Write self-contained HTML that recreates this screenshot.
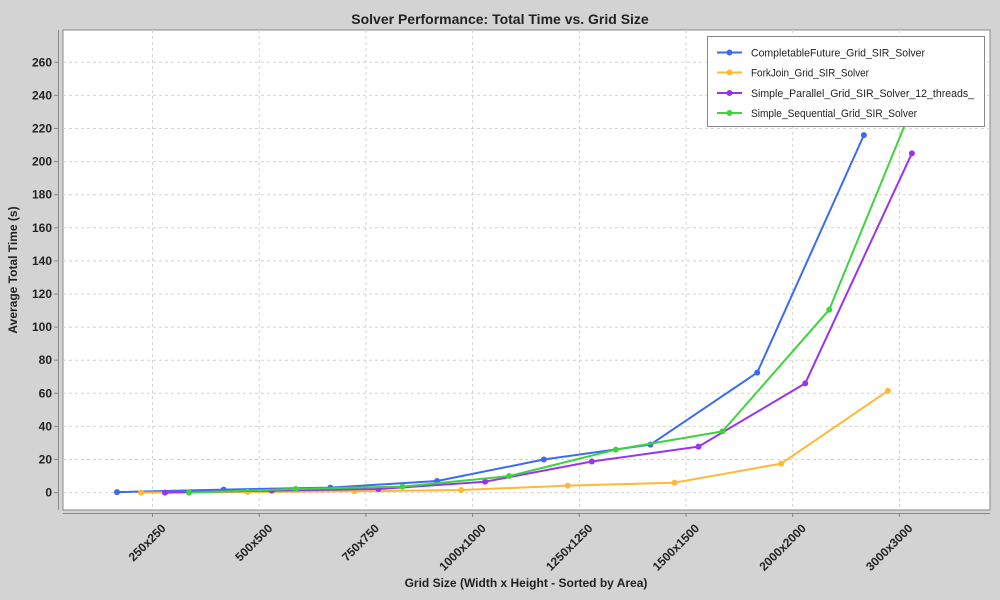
<!DOCTYPE html>
<html><head><meta charset="utf-8"><style>
html,body{margin:0;padding:0;background:#d3d3d3;}
svg{display:block;font-family:"Liberation Sans",Arial,sans-serif;}
</style></head><body>
<svg id="chart" width="1000" height="600" xmlns="http://www.w3.org/2000/svg">
<rect x="0" y="0" width="1000" height="600" fill="#d3d3d3"/>
<text x="500" y="24" text-anchor="middle" font-size="14" font-weight="bold" fill="#222">Solver Performance: Total Time vs. Grid Size</text>
<defs><clipPath id="pc"><rect x="63" y="30" width="927" height="480"/></clipPath></defs>
<rect x="63" y="30" width="927" height="480" fill="#fff" stroke="#888" stroke-width="1"/>
<g id="grid"></g>
<g id="axes"></g>
<g id="series" clip-path="url(#pc)"></g>
<g>
<rect x="707.5" y="36.5" width="277" height="90" fill="#fff" stroke="#888" stroke-width="1"/>
<g id="legend"></g>
</g>
<text x="17" y="270" transform="rotate(-90 17 270)" text-anchor="middle" font-size="12" font-weight="bold" fill="#222">Average Total Time (s)</text>
<text x="526" y="587" text-anchor="middle" font-size="12" font-weight="bold" fill="#222">Grid Size (Width x Height - Sorted by Area)</text>
</svg>
<script>
const categories = ["250x250","500x500","750x750","1000x1000","1250x1250","1500x1500","2000x2000","3000x3000"];
const seriesNames = ["CompletableFuture_Grid_SIR_Solver","ForkJoin_Grid_SIR_Solver","Simple_Parallel_Grid_SIR_Solver_12_threads_","Simple_Sequential_Grid_SIR_Solver"];
const completableFuture = [0.3, 1.8, 3.0, 7.0, 20.0, 29.0, 72.5, 216];
const forkJoin = [0.0, 0.4, 0.8, 1.6, 4.2, 6.0, 17.5, 61.5];
const simpleParallel = [0.0, 1.2, 2.2, 6.6, 18.8, 27.8, 66, 205];
const simpleSequential = [0.0, 2.2, 3.6, 10.0, 26.0, 37.0, 110.5, 268];
const yTicks = [0,20,40,60,80,100,120,140,160,180,200,220,240,260];
const colors = ["#3d6af5","#ffb833","#9a33f0","#3ed43e"];

const NS="http://www.w3.org/2000/svg";
function mk(tag,attrs,parent){const e=document.createElementNS(NS,tag);for(const k in attrs)e.setAttribute(k,attrs[k]);parent.appendChild(e);return e;}
const y0=492.6, pxPer=33.1/20;
function yS(v){return y0 - v*pxPer;}
const cx0=152.5, cStep=106.7;
function xCat(i){return cx0 + i*cStep;}
const offsets=[-35.5,-11.5,12.5,36.5];
function xS(i,s){return xCat(i)+offsets[s];}

const grid=document.getElementById('grid'), axes=document.getElementById('axes');
mk('line',{x1:58.5,y1:30,x2:58.5,y2:510,stroke:'#888'},axes);
mk('line',{x1:63,y1:513.5,x2:990,y2:513.5,stroke:'#888'},axes);
yTicks.forEach(v=>{
  const y=yS(v);
  const g=mk('line',{x1:63,y1:y,x2:990,y2:y,stroke:'#d4d4d4','stroke-dasharray':'3,3'},grid);
   
  const t=mk('line',{x1:54,y1:y,x2:58,y2:y,stroke:'#888'},axes);
   
  const l=mk('text',{x:52,y:y+4,'text-anchor':'end','font-size':12,'font-weight':'bold',fill:'#222'},axes);
  l.textContent=v;
   
});
categories.forEach((c,i)=>{
  const x=xCat(i);
  const g=mk('line',{x1:x,y1:30,x2:x,y2:510,stroke:'#d4d4d4','stroke-dasharray':'3,3'},grid);
   
  const t=mk('line',{x1:x,y1:513,x2:x,y2:517,stroke:'#888'},axes);
   
  const ax=x+14, ay=529;
  const l=mk('text',{x:ax,y:ay,'text-anchor':'end','font-size':12,'font-weight':'bold',fill:'#222',transform:`rotate(-45 ${ax} ${ay})`},axes);
  l.textContent=c;
   
});
const data=[completableFuture,forkJoin,simpleParallel,simpleSequential];
const sg=document.getElementById('series');
data.forEach((arr,s)=>{
  const g=mk('g',{},sg);
   
  const pts=arr.map((v,i)=>xS(i,s).toFixed(1)+','+yS(v).toFixed(1)).join(' ');
  const pl=mk('polyline',{points:pts,fill:'none',stroke:colors[s],'stroke-width':2,'stroke-linejoin':'round'},g);
   
  arr.forEach((v,i)=>{
    const c=mk('circle',{cx:xS(i,s),cy:yS(v),r:3,fill:colors[s]},g);
     
  });
});
const lg=document.getElementById('legend');
const rowY=[52.5,72.5,93,113];
const legendLens=[174,118,223,166];
seriesNames.forEach((n,s)=>{
  const g=mk('g',{},lg);
   
  mk('line',{x1:717,y1:rowY[s],x2:742,y2:rowY[s],stroke:colors[s],'stroke-width':2},g);
  mk('circle',{cx:729.5,cy:rowY[s],r:3,fill:colors[s]},g);
  const t=mk('text',{x:751,y:rowY[s]+4,'font-size':11,fill:'#222',textLength:legendLens[s],lengthAdjust:'spacingAndGlyphs'},g);
  t.textContent=n;
});
</script>
</body></html>
